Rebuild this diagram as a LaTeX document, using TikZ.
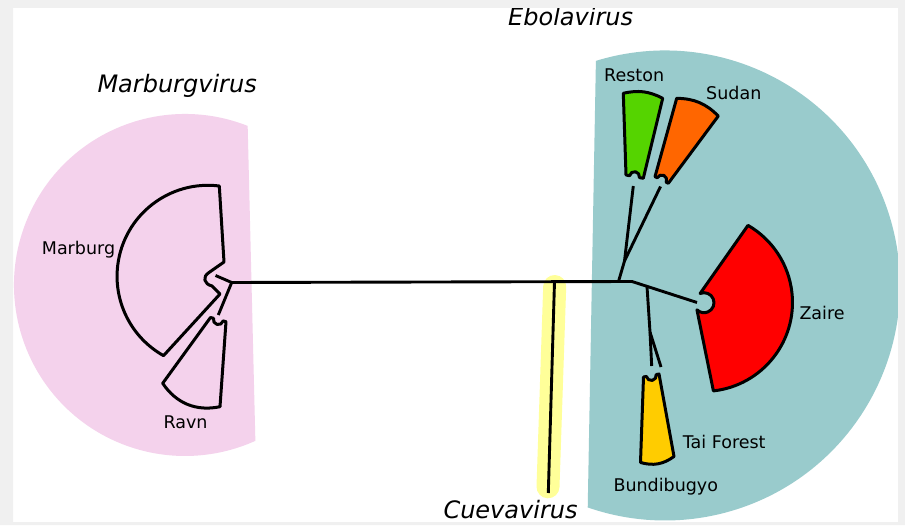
\documentclass[tikz,border=0pt]{standalone}
\usepackage{fontspec}
\setmainfont{DejaVu Sans}
\definecolor{marpink}{RGB}{244,210,236}
\definecolor{ebteal}{RGB}{153,203,204}
\definecolor{cuehl}{RGB}{255,255,153}
\definecolor{restgreen}{RGB}{85,212,0}
\definecolor{sudorange}{RGB}{255,102,0}
\definecolor{taigold}{RGB}{255,204,0}
\definecolor{framegray}{RGB}{240,240,240}
\begin{document}
\begin{tikzpicture}[x=1pt, y=1pt,
  branch/.style={line width=2.9pt, line join=round},
  clade/.style={draw=black, line width=3pt, line join=round},
  leaf/.style={anchor=base west, inner sep=0pt, font=\fontsize{17.5}{20}\selectfont},
  genus/.style={anchor=base west, inner sep=0pt, font=\fontsize{24}{28}\selectfont\itshape}]
  \useasboundingbox (0,0) rectangle (905,525);
  \fill[white] (0,0) rectangle (905,525);
  % genus areas
  \fill[marpink] (185,240) ++(68.5:171) arc[start angle=68.5, end angle=294.3, radius=171] -- cycle;
  \fill[ebteal] (665,239.5) ++(107.1:235) arc[start angle=107.1, end angle=-109.2, radius=235] -- cycle;
  \draw[cuehl, line width=23pt, line cap=round] (554.7,238.5) -- (548,38.2);
  % tree nodes
  \coordinate (mbg) at (231.7,242.5);
  \coordinate (mtip) at (215.5,249.5);
  \coordinate (rvtip) at (218.3,210);
  \coordinate (cue) at (554.5,243.2);
  \coordinate (cuetip) at (548.3,32);
  \coordinate (rsn) at (618.5,243.5);
  \coordinate (rs) at (624.5,264);
  \coordinate (rtip) at (633.3,339);
  \coordinate (stip) at (660.5,338.5);
  \coordinate (ebo) at (632,243.5);
  \coordinate (tbj) at (647,238.6);
  \coordinate (tb) at (650,193);
  \coordinate (ttip) at (651.7,159);
  \coordinate (btip) at (661,158);
  \coordinate (ztip) at (697,222.5);
  % branches
  \draw[branch] (mtip) -- (mbg) -- (ebo) -- (ztip);
  \draw[branch] (mbg) -- (rvtip);
  \draw[branch] (cue) -- (cuetip);
  \draw[branch] (rsn) -- (rs) -- (rtip);
  \draw[branch] (rs) -- (stip);
  \draw[branch] (tbj) -- (tb) -- (ttip);
  \draw[branch] (tb) -- (btip);
  % collapsed clades
  \draw[clade, fill=marpink] (219.3,339) arc[start angle=82.9, end angle=240.7, radius=91]
    -- (220,231) -- (212,239) .. controls (204,241) and (202,248) .. (209,252.5) -- (224,263) -- cycle;
  \draw[clade, fill=marpink] (210.5,207.5) -- (213.5,206.7) arc[start angle=164.8, end angle=344.8, radius=5]
    -- (226,203.3) -- (220,118.3) to[bend left=34] (162.7,141.7) -- cycle;
  \draw[clade, fill=restgreen] (626,350) -- (623.3,431.7) to[bend left=20] (662.7,426.7) -- (643.3,346.7)
    -- (639.4,347.4) arc[start angle=-10.8, end angle=169.2, radius=5] -- cycle;
  \draw[clade, fill=sudorange] (655,348.3) -- (676.7,426.7) to[bend left=22] (718.3,409) -- (668.3,341.7)
    -- (666.2,342.8) arc[start angle=-26.4, end angle=153.6, radius=5] -- cycle;
  \draw[clade, fill=red] (700.1,231.5) arc[start angle=113, end angle=-135, radius=10]
    -- (713.4,134.1) arc[start angle=-83.6, end angle=60, radius=89] -- cycle;
  \draw[clade, fill=taigold] (643.5,148) -- (646.4,148.55) arc[start angle=191, end angle=371, radius=5]
    -- (659,151) -- (674,68.5) to[bend left=26] (640.5,62.5) -- cycle;
  % labels
  \node[genus] (marv) at (97.3,432.7) {Marburgvirus};
  \node[genus] (ebov) at (508,499) {Ebolavirus};
  \node[genus] (cuev) at (443.3,6.5) {Cuevavirus};
  \node[leaf] (marl) at (41.7,270) {Marburg};
  \node[leaf] (ravl) at (163.3,96.7) {Ravn};
  \node[leaf] (resl) at (604,443.3) {Reston};
  \node[leaf] (sudl) at (706,425) {Sudan};
  \node[leaf] (zail) at (799.3,205) {Zaire};
  \node[leaf] (tail) at (682.7,76.7) {Tai Forest};
  \node[leaf] (bunl) at (613.3,33.3) {Bundibugyo};
  % frame
  \fill[framegray, even odd rule] (0,0) rectangle (905,525) (13,3) rectangle (898,517);
\end{tikzpicture}
\end{document}
